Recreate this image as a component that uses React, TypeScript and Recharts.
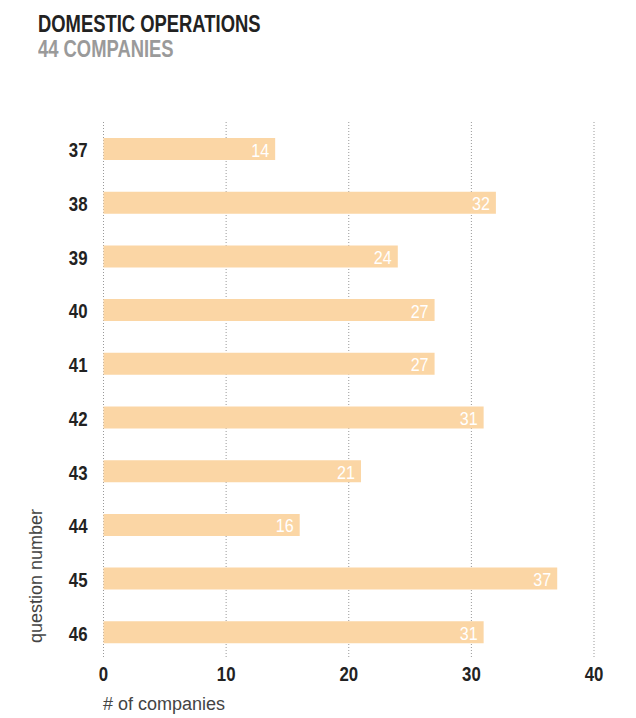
import React from 'react';
import { BarChart, Bar, XAxis, YAxis, CartesianGrid, LabelList } from 'recharts';

const questions = ['37', '38', '39', '40', '41', '42', '43', '44', '45', '46'];
const companies = [14, 32, 24, 27, 27, 31, 21, 16, 37, 31];
const xTicks = [0, 10, 20, 30, 40];

const data = questions.map((q, i) => ({ question: q, count: companies[i] }));

const sans = '"Liberation Sans", Arial, sans-serif';
const squeeze = 0.8;

const YTick = (props: any) => {
  const { x, y, payload } = props;
  return (
    <g transform={`translate(${x - 8},${y + 8.5}) scale(${squeeze},1)`}>
      <text x={0} y={0} textAnchor="end" fontFamily={sans} fontWeight="bold" fontSize={21} fill="#222">
        {payload.value}
      </text>
    </g>
  );
};

const XTick = (props: any) => {
  const { x, y, payload } = props;
  return (
    <g transform={`translate(${x},${y + 14}) scale(${squeeze},1)`}>
      <text x={0} y={0} textAnchor="middle" fontFamily={sans} fontWeight="bold" fontSize={21} fill="#222">
        {payload.value}
      </text>
    </g>
  );
};

const BarValue = (props: any) => {
  const { x, y, width, height, value } = props;
  return (
    <g transform={`translate(${x + width - 6},${y + height / 2 + 7.5}) scale(0.85,1)`}>
      <text x={0} y={0} textAnchor="end" fontFamily={sans} fontSize={19} fill="#fff">
        {value}
      </text>
    </g>
  );
};

export default function App() {
  return (
    <div style={{ position: 'absolute', left: 0, top: 0, width: 636, height: 718, background: '#fff' }}>
      <div style={{ position: 'absolute', left: 38, top: 11, fontFamily: sans, fontWeight: 'bold', fontSize: 23, color: '#222', lineHeight: '26px', whiteSpace: 'nowrap', transform: `scaleX(${squeeze})`, transformOrigin: 'left' }}>
        DOMESTIC OPERATIONS
      </div>
      <div style={{ position: 'absolute', left: 38, top: 36, fontFamily: sans, fontWeight: 'bold', fontSize: 23, color: '#9a9a9a', lineHeight: '26px', whiteSpace: 'nowrap', transform: `scaleX(${squeeze})`, transformOrigin: 'left' }}>
        44 COMPANIES
      </div>
      <BarChart
        width={636}
        height={718}
        data={data}
        layout="vertical"
        margin={{ top: 122, right: 42, bottom: 19, left: 3 }}
        barCategoryGap={16}
      >
        <CartesianGrid horizontal={false} stroke="#999" strokeDasharray="1 2" />
        <XAxis
          type="number"
          domain={[0, 40]}
          ticks={xTicks}
          axisLine={false}
          tickLine={false}
          height={40}
          tick={<XTick />}
        />
        <YAxis
          type="category"
          dataKey="question"
          width={100.5}
          axisLine={false}
          tickLine={false}
          tick={<YTick />}
        />
        <Bar dataKey="count" fill="#fbd6a5" isAnimationActive={false}>
          <LabelList dataKey="count" content={<BarValue />} />
        </Bar>
      </BarChart>
      <div style={{ position: 'absolute', left: 103, top: 694, fontFamily: sans, fontSize: 18, color: '#444', whiteSpace: 'nowrap' }}>
        # of companies
      </div>
      <div
        style={{
          position: 'absolute',
          left: 36,
          top: 576,
          fontFamily: sans,
          fontSize: 18,
          color: '#444',
          whiteSpace: 'nowrap',
          transform: 'translate(-50%, -50%) rotate(-90deg)',
        }}
      >
        question number
      </div>
    </div>
  );
}
